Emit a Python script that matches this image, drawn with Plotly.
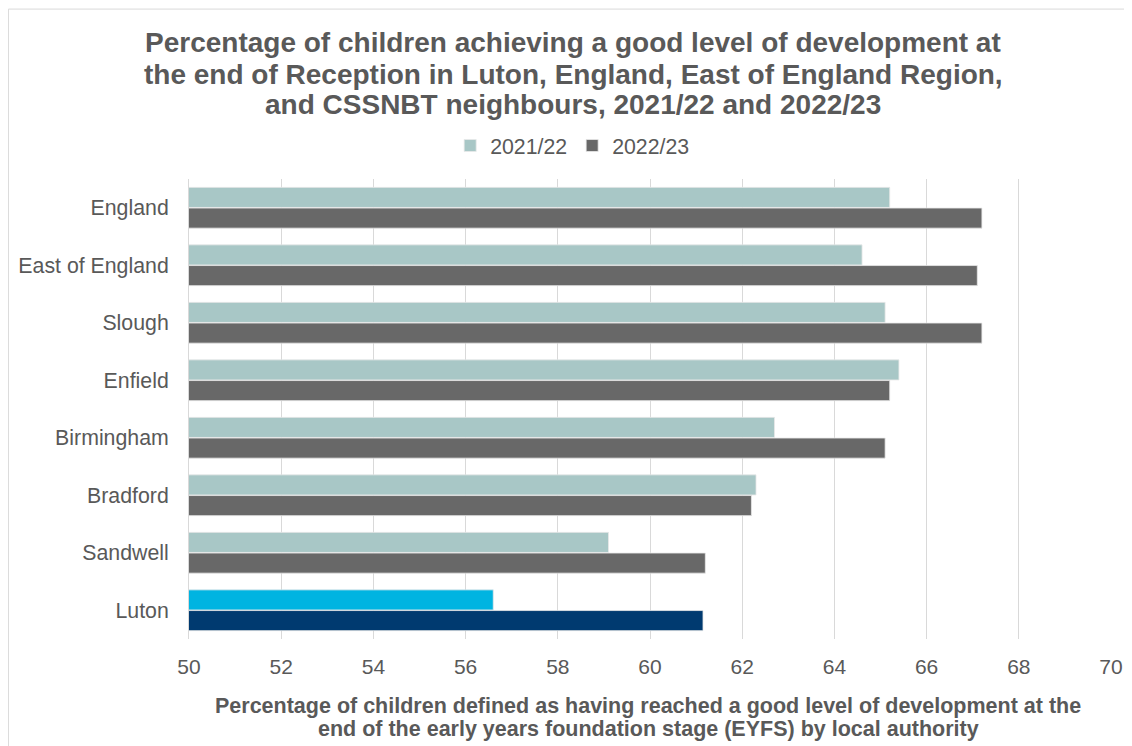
import plotly.graph_objects as go

categories = ["England", "East of England", "Slough", "Enfield", "Birmingham", "Bradford", "Sandwell", "Luton"]
values_2122 = [65.2, 64.6, 65.1, 65.4, 62.7, 62.3, 59.1, 56.6]
values_2223 = [67.2, 67.1, 67.2, 65.2, 65.1, 62.2, 61.2, 61.15]
series_names = ["2021/22", "2022/23"]
x_ticks = [50, 52, 54, 56, 58, 60, 62, 64, 66, 68, 70]

title_lines = [
    "Percentage of children achieving a good level of development at",
    "the end of Reception in Luton, England, East of England Region,",
    "and CSSNBT neighbours, 2021/22 and 2022/23",
]
axis_title_lines = [
    "Percentage of children defined as having reached a good level of development at the",
    "end of the early years foundation stage (EYFS) by local authority",
]

col_light = "#A8C7C6"
col_dark = "#686868"
col_luton_light = "#00B4E1"
col_luton_dark = "#003A70"
txt = "#595959"
FONT = "Liberation Sans, Arial, sans-serif"

colors_2122 = [col_luton_light if c == "Luton" else col_light for c in categories]
colors_2223 = [col_luton_dark if c == "Luton" else col_dark for c in categories]

fig = go.Figure()
fig.add_trace(go.Bar(
    y=categories, x=values_2122, name=series_names[0], orientation="h",
    marker=dict(color=colors_2122, line=dict(color="#e8e8e8", width=0.8)),
))
fig.add_trace(go.Bar(
    y=categories, x=values_2223, name=series_names[1], orientation="h",
    marker=dict(color=colors_2223, line=dict(color="#e8e8e8", width=0.8)),
))

# page body has an 8px margin at top/left; positions below are in reference pixels
OFF = 8
W, H = 1132 - OFF, 746 - OFF
plot_left, plot_right, plot_top, plot_bottom = 189, 1110.6, 179.3, 639
L = plot_left - OFF
R = W - (plot_right - OFF)
T = plot_top - OFF
B = H - (plot_bottom - OFF)
pw, ph = W - L - R, H - T - B

def px_x(x):
    return (x - OFF - L) / pw

def px_y(y):
    return (H - B - (y - OFF)) / ph

annotations = []
for line, yc in zip(title_lines, [43, 75, 105]):
    annotations.append(dict(
        text="<b>" + line + "</b>", x=px_x(573), xref="paper", xanchor="center",
        y=px_y(yc), yref="paper", yanchor="middle", showarrow=False,
        font=dict(size=28, color=txt, family=FONT),
    ))
for line, yc in zip(axis_title_lines, [706, 729]):
    annotations.append(dict(
        text="<b>" + line + "</b>", x=px_x(648), xref="paper", xanchor="center",
        y=px_y(yc), yref="paper", yanchor="middle", showarrow=False,
        font=dict(size=21.5, color=txt, family=FONT),
    ))

fig.update_layout(
    width=W, height=H,
    margin=dict(l=L, r=R, t=T, b=B, autoexpand=False),
    paper_bgcolor="white", plot_bgcolor="white",
    font=dict(family=FONT, color=txt, size=21.3),
    barmode="group", bargap=0.28, bargroupgap=0.03,
    legend=dict(
        orientation="h", x=px_x(572), xanchor="center", xref="paper",
        y=px_y(146), yanchor="middle", yref="paper",
        font=dict(size=21.3, color=txt), itemwidth=30, traceorder="normal",
    ),
    xaxis=dict(
        range=[50, 70], tickvals=x_ticks, showgrid=True, gridcolor="#d9d9d9", gridwidth=1,
        zeroline=False, showline=False, ticks="", ticklabelstandoff=13, automargin=False,
        tickfont=dict(size=21, color=txt),
    ),
    yaxis=dict(
        categoryorder="array", categoryarray=categories, autorange="reversed",
        showgrid=False, zeroline=False, showline=True, linecolor="#d9d9d9", linewidth=1,
        ticks="", ticklabelstandoff=15, automargin=False, tickfont=dict(size=21.3, color=txt),
    ),
    annotations=annotations,
    shapes=[dict(
        type="rect", xref="paper", yref="paper",
        x0=px_x(8.5), x1=px_x(1140), y0=px_y(760), y1=px_y(9.5),
        line=dict(color="#d9d9d9", width=1), fillcolor="rgba(0,0,0,0)", layer="below",
    )],
)

fig.write_html("out.html")
